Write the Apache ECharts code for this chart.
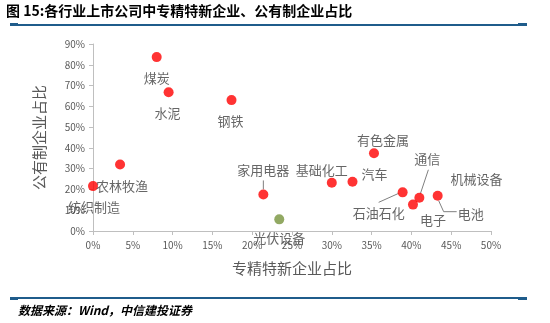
<!DOCTYPE html>
<html><head><meta charset="utf-8">
<script src="https://cdn.jsdelivr.net/npm/echarts@6/dist/echarts.min.js"></script>
<style>html,body{margin:0;padding:0;background:#fff}#c{width:550px;height:323px}</style>
</head><body><div id="c"></div>
<script>
// ---- data ----
const industries = ['煤炭','水泥','钢铁','农林牧渔','纺织制造','家用电器','光伏设备','基础化工','汽车','有色金属','石油石化','通信','电子','电池','机械设备'];
const xShare = [8.0, 9.5, 17.4, 3.4, 0.0, 21.4, 23.4, 30.0, 32.6, 35.3, 38.9, 41.0, 40.2, 43.3, 43.4];   // 专精特新企业占比 %
const yShare = [83.7, 66.8, 63.0, 32.0, 21.6, 17.6, 5.6, 23.2, 23.7, 37.4, 18.6, 16.0, 12.7, 17.0, 17.2]; // 公有制企业占比 %
const xTicks = [0,5,10,15,20,25,30,35,40,45,50];
const yTicks = [0,10,20,30,40,50,60,70,80,90];
// ---- label placement (style) ----
const labelShift = [[0,21],[-1,21],[-1,21],[2,22],[1,21],[0,-24],[0,19],[-10,-13],[22,-8],[9,-13],[-24,21],[8,-39],[20,15],[33,18],[38,-16]];
// leader line polylines, pixel offsets relative to the dot
const leaderShape = {
  '家用电器':[[0,-5],[0,-14]],
  '石油石化':[[-24,10],[-4,1]],
  '通信':[[9,-28],[1,-4]],
  '电池':[[1,5],[6,16],[19,16]]
};
const hiddenDot = ['机械设备'];

const font = '"Noto Sans CJK SC","Noto Sans",sans-serif';
const data = industries.map((n,i)=>({
  name:n, value:[xShare[i], yShare[i]],
  itemStyle:{color: hiddenDot.includes(n) ? 'rgba(0,0,0,0)' : (n==='光伏设备' ? '#77933c' : '#ff0000')}
}));
const leaderData = industries.map((n,i)=>({name:n, value:[xShare[i], yShare[i]]})).filter(d=>leaderShape[d.name]);

const chart = echarts.init(document.getElementById('c'), null, {renderer:'canvas'});
chart.setOption({
  animation:false,
  grid:{left:93, top:44, width:398, height:187},
  xAxis:{type:'value', min:0, max:50, interval:5,
    name:'专精特新企业占比', nameLocation:'middle', nameGap:30,
    nameTextStyle:{fontFamily:font, fontSize:15, color:'#595959'},
    axisLine:{lineStyle:{color:'#bfbfbf'}}, axisTick:{show:true, length:4, lineStyle:{color:'#bfbfbf'}},
    splitLine:{show:false},
    axisLabel:{formatter:v=>v+'%', fontSize:10, color:'#595959', fontFamily:font, margin:9}},
  yAxis:{type:'value', min:0, max:90, interval:10,
    name:'公有制企业占比', nameLocation:'middle', nameGap:46, nameRotate:90,
    nameTextStyle:{fontFamily:font, fontSize:15, color:'#595959'},
    axisLine:{show:true, lineStyle:{color:'#bfbfbf'}}, axisTick:{show:true, length:4, lineStyle:{color:'#bfbfbf'}},
    splitLine:{show:false},
    axisLabel:{formatter:v=>v+'%', fontSize:10, color:'#595959', fontFamily:font, margin:8}},
  series:[{
    type:'custom', data:leaderData, silent:true, z:1,
    renderItem:(params, api)=>{
      const p = api.coord([api.value(0), api.value(1)]);
      const shape = leaderShape[leaderData[params.dataIndex].name];
      return {type:'polyline', shape:{points:shape.map(o=>[p[0]+o[0], p[1]+o[1]])},
              style:{stroke:'#7f7f7f', lineWidth:1, fill:null}};
    }
  },{
    type:'scatter', symbolSize:10, data:data, z:2,
    label:{show:true, position:'inside', formatter:p=>p.name, fontFamily:font, fontSize:13, color:'#404040'},
    labelLayout:p=>({dx:labelShift[p.dataIndex][0], dy:labelShift[p.dataIndex][1]})
  }],
  graphic:[
    {type:'text', left:6, top:4, style:{text:'图 15:各行业上市公司中专精特新企业、公有制企业占比', font:'bold 14px '+font, fill:'#000'}},
    {type:'rect', shape:{x:10,y:24,width:517,height:2}, style:{fill:'#1f5c8b'}},
    {type:'rect', shape:{x:10,y:23,width:8,height:3}, style:{fill:'#1f5c8b'}},
    {type:'rect', shape:{x:518,y:23,width:9,height:3}, style:{fill:'#1f5c8b'}},
    {type:'rect', shape:{x:10,y:297,width:517,height:2}, style:{fill:'#1f5c8b'}},
    {type:'rect', shape:{x:10,y:297,width:8,height:3}, style:{fill:'#1f5c8b'}},
    {type:'rect', shape:{x:518,y:297,width:9,height:3}, style:{fill:'#1f5c8b'}},
    {type:'text', left:18, top:304, style:{text:'数据来源：Wind，中信建投证券', font:'italic bold 12px '+font, fill:'#000'}}
  ]
});
</script></body></html>
